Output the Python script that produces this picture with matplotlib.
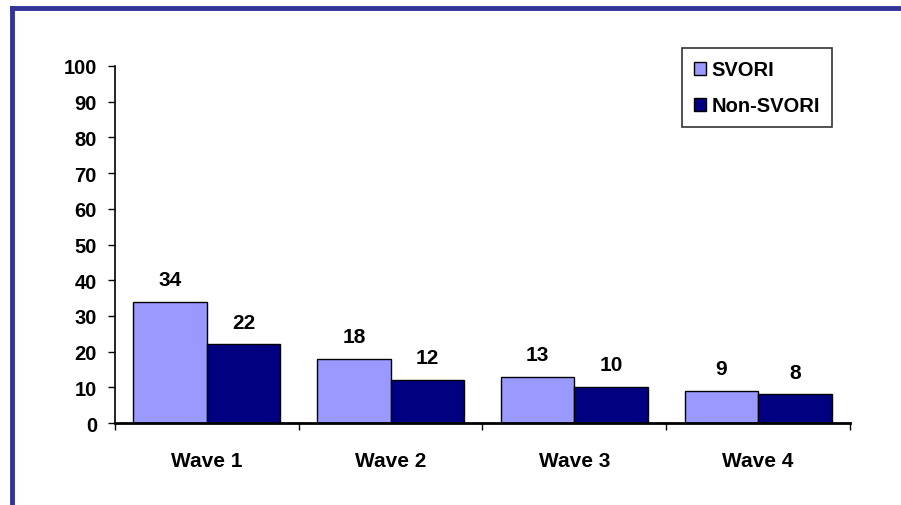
import matplotlib.pyplot as plt
import numpy as np
from matplotlib.patches import Patch

# ==========================
# Dados
# ==========================
ondas = ["Wave 1", "Wave 2", "Wave 3", "Wave 4"]
svori = [34, 18, 13, 9]
non_svori = [22, 12, 10, 8]
series = ["SVORI", "Non-SVORI"]

cor_svori = "#9999ff"
cor_non = "#000080"

plt.rcParams["font.family"] = ["Liberation Sans", "DejaVu Sans"]
plt.rcParams["font.weight"] = "bold"

fig = plt.figure(figsize=(9.01, 5.06), dpi=100)
ax = fig.add_axes([0.1276, 0.162, 0.8158, 0.7056])

x = np.arange(len(ondas))
w = 0.4
b1 = ax.bar(x - w / 2, svori, w, color=cor_svori, edgecolor="black", linewidth=1)
b2 = ax.bar(x + w / 2, non_svori, w, color=cor_non, edgecolor="black", linewidth=1)

for barras, vals in [(b1, svori), (b2, non_svori)]:
    for b, v in zip(barras, vals):
        ax.text(b.get_x() + b.get_width() / 2, v + 3.6, str(v),
                ha="center", va="bottom", fontsize=15, fontweight="bold")

ax.set_xlim(-0.5, len(ondas) - 0.5)
ax.set_ylim(0, 100)
ax.set_yticks(range(0, 101, 10))
ax.set_xticks(np.arange(-0.5, len(ondas), 1))
ax.set_xticklabels([])
ax.set_xticks(x, minor=True)
ax.set_xticklabels(ondas, minor=True, fontsize=15, fontweight="bold")
ax.tick_params(axis="x", which="minor", length=0, pad=20)
ax.tick_params(axis="x", which="major", length=5, width=1, direction="out")
ax.tick_params(axis="y", length=5, width=1, direction="out", labelsize=14.5, pad=8)
for lbl in ax.get_yticklabels():
    lbl.set_fontweight("bold")

ax.spines["top"].set_visible(False)
ax.spines["right"].set_visible(False)
ax.spines["bottom"].set_linewidth(2)
ax.spines["left"].set_linewidth(1.2)

handles = [Patch(facecolor=cor_svori, edgecolor="black"),
           Patch(facecolor=cor_non, edgecolor="black")]
leg = ax.legend(handles, series, loc="upper right", bbox_to_anchor=(0.9755, 1.050),
                fontsize=14.5, frameon=True, fancybox=False, edgecolor="black",
                handlelength=0.6, handleheight=0.6, handletextpad=0.25,
                labelspacing=0.85, borderpad=0.6, borderaxespad=0)
leg.get_frame().set_linewidth(1.2)
for t in leg.get_texts():
    t.set_fontweight("bold")

# borda azul (esquerda e topo)
fig.add_artist(plt.Line2D([12 / 901, 12 / 901], [0, 1 - 9 / 506], color="#333399",
                          linewidth=3.5, transform=fig.transFigure))
fig.add_artist(plt.Line2D([12 / 901, 1], [1 - 9 / 506, 1 - 9 / 506], color="#333399",
                          linewidth=3.5, transform=fig.transFigure))

fig.savefig("out.png", dpi=100)
